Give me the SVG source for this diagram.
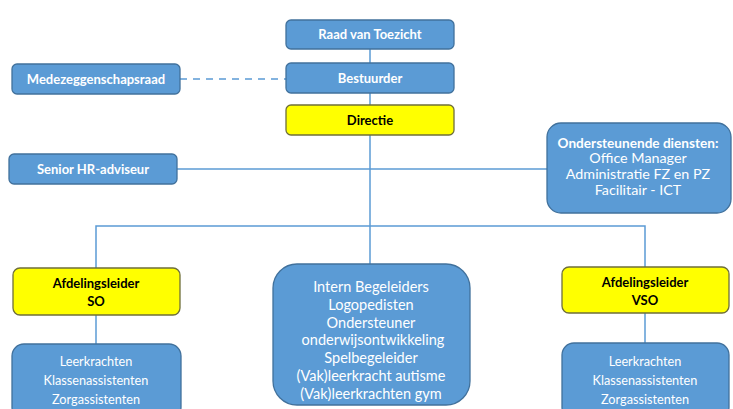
<svg xmlns="http://www.w3.org/2000/svg" width="733" height="409" viewBox="0 0 733 409">
<style>
.b{fill:#5b9bd5;stroke:#41719c;stroke-width:1.3}
.y{fill:#ffff00;stroke:#6f6f3a;stroke-width:1.3}
.t{font-family:Lato,"Open Sans","Liberation Sans",sans-serif;font-size:13px;text-anchor:middle;fill:#ffffff}
.tb{font-weight:bold}
.tk{fill:#000000;font-weight:bold}
.s{font-size:12.7px}
.l{font-size:14.3px}
.lb{font-size:13.6px;font-weight:bold}
.m{font-size:14.5px}
.c{stroke:#5b9bd5;stroke-width:1.5;fill:none}
</style>
<rect width="733" height="409" fill="#ffffff"/>
<g id="connectors">
<line class="c" x1="370" y1="49" x2="370" y2="63"/>
<line class="c" x1="370" y1="93" x2="370" y2="105"/>
<line class="c" x1="180" y1="79" x2="286" y2="79" stroke-dasharray="7,6"/>
<line class="c" x1="370" y1="135" x2="370" y2="264"/>
<line class="c" x1="177" y1="169" x2="547" y2="169"/>
<polyline class="c" points="96,268 96,226 645,226 645,267"/>
<line class="c" x1="96" y1="315" x2="96" y2="344"/>
<line class="c" x1="645" y1="313" x2="645" y2="343"/>
</g>
<g id="raad"><rect class="b" x="286" y="20" width="168" height="29" rx="5"/><text class="t tb" x="370" y="39">Raad van Toezicht</text></g>
<g id="bestuurder"><rect class="b" x="286" y="63" width="168" height="30" rx="5"/><text class="t tb" x="370" y="83">Bestuurder</text></g>
<g id="mr"><rect class="b" x="12" y="64" width="168" height="30" rx="5"/><text class="t tb" x="96" y="84">Medezeggenschapsraad</text></g>
<g id="directie"><rect class="y" x="286" y="105" width="168" height="30" rx="5"/><text class="t tk" x="370" y="125">Directie</text></g>
<g id="hr"><rect class="b" x="9" y="154" width="168" height="30" rx="5"/><text class="t tb" x="93" y="174">Senior HR-adviseur</text></g>
<g id="ondersteunend"><rect class="b" x="547" y="123" width="184" height="90" rx="14"/>
<text class="t lb" x="638" y="147.5">Ondersteunende diensten:</text>
<text class="t l" x="638" y="163.3">Office Manager</text>
<text class="t l" x="638" y="178.8">Administratie FZ en PZ</text>
<text class="t l" x="638" y="194.6">Facilitair - ICT</text></g>
<g id="afd-so"><rect class="y" x="13" y="268" width="167" height="47" rx="7"/><text class="t tk" x="96" y="288">Afdelingsleider<tspan x="96" dy="18">SO</tspan></text></g>
<g id="afd-vso"><rect class="y" x="562" y="267" width="167" height="46" rx="7"/><text class="t tk" x="645" y="287">Afdelingsleider<tspan x="645" dy="18">VSO</tspan></text></g>
<g id="team-so"><rect class="b" x="12" y="344" width="169" height="75" rx="12"/><text class="t s" x="96" y="366">Leerkrachten<tspan x="96" dy="19">Klassenassistenten</tspan><tspan x="96" dy="19">Zorgassistenten</tspan></text></g>
<g id="team-vso"><rect class="b" x="562" y="343" width="167" height="76" rx="12"/><text class="t s" x="645" y="366">Leerkrachten<tspan x="645" dy="19">Klassenassistenten</tspan><tspan x="645" dy="19">Zorgassistenten</tspan></text></g>
<g id="specialisten"><rect class="b" x="273" y="264" width="197" height="141" rx="24"/>
<text class="t m" x="371" y="292">Intern Begeleiders<tspan x="371" dy="17.8">Logopedisten</tspan><tspan x="371" dy="17.8">Ondersteuner</tspan><tspan x="373" dy="17.8">onderwijsontwikkeling</tspan><tspan x="371" dy="17.8">Spelbegeleider</tspan><tspan x="371" dy="17.8">(Vak)leerkracht autisme</tspan><tspan x="371" dy="17.8">(Vak)leerkrachten gym</tspan></text></g>
</svg>
